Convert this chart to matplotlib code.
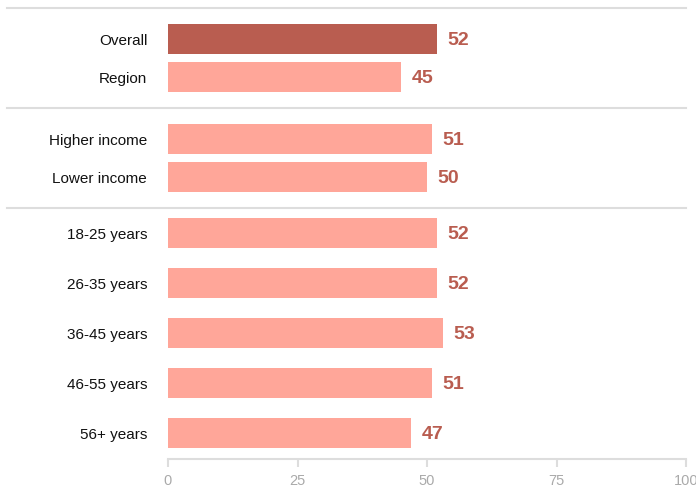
import matplotlib
matplotlib.use('Agg')
import matplotlib.pyplot as plt

plt.rcParams['font.family'] = ['Liberation Sans', 'DejaVu Sans']

categories = ['Overall', 'Region', 'Higher income', 'Lower income',
              '18-25 years', '26-35 years', '36-45 years', '46-55 years', '56+ years']
values = [52, 45, 51, 50, 52, 52, 53, 51, 47]

# layout: bar centres (pixel rows), separators between groups
ypos = [39.5, 77.5, 139.5, 177.5, 233.5, 283.5, 333.5, 383.5, 433.5]
seps = [8.5, 108.5, 208.5]

dark = '#B95D50'
light = '#FFA699'
colors = [dark] + [light] * (len(values) - 1)

fig = plt.figure(figsize=(6.96, 4.89), dpi=100)
ax = fig.add_axes([168 / 696, 1 - 460 / 489, 518 / 696, 460 / 489])

ax.barh(ypos, values, height=30, color=colors)
for y, v in zip(ypos, values):
    ax.annotate(str(v), (v, y), xytext=(7.5, -0.5), textcoords='offset points',
                va='center', ha='left', fontsize=14, fontweight='bold', color=dark)

for s in seps:
    ax.plot([-31, 100], [s, s], color='#DDDDDD', lw=1.5, clip_on=False)

ax.set_xlim(0, 100)
ax.set_ylim(460, 0)
ax.set_xticks([0, 25, 50, 75, 100])
ax.set_yticks(ypos)
ax.set_yticklabels(categories)
ax.tick_params(axis='y', length=0, pad=15, labelsize=11, labelcolor='#111111')
ax.tick_params(axis='x', length=6, width=1.5, color='#DDDDDD', labelcolor='#AAAAAA',
               labelsize=10.5, pad=4)
for k in ['top', 'right', 'left']:
    ax.spines[k].set_visible(False)
ax.spines['bottom'].set_color('#DDDDDD')
ax.spines['bottom'].set_linewidth(1.5)

fig.savefig('out.png', dpi=100)
